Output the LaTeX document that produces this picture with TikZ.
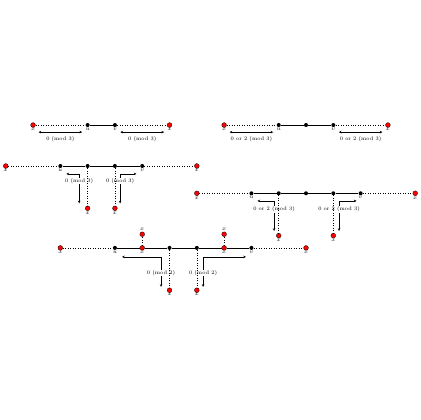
\documentclass[tikz,border=0pt]{standalone}
\usetikzlibrary{arrows.meta}

\tikzset{
  site/.style={circle, fill=black, inner sep=0pt, minimum size=4.2pt},
  redsite/.style={circle, fill=red, draw=black, line width=0.3pt, inner sep=0pt, minimum size=5pt},
  every label/.style={font=\fontsize{6}{6}\selectfont, inner sep=0.6pt},
  modlab/.style={font=\fontsize{5.5}{6}\selectfont, fill=white, inner sep=0.6pt},
  span/.style={{Stealth[length=2.8pt,width=2.6pt]}-{Stealth[length=2.8pt,width=2.6pt]}, semithick},
  bond/.style={semithick},
  gap/.style={dotted, semithick},
}

\begin{document}
\begin{tikzpicture}
    \useasboundingbox (-0.21,0.08) rectangle (15.175,-15.305);
    \newcommand{\drop}{1.55} % vertical span down to the lower sites
    \newcommand{\lift}{0.5}

    % top left path
    \node[redsite, label=below:$x$] (a0) at (1,-4.5) {};
    \node[site, label=below:$u$] (a2) at (3,-4.5) {};
    \node[site, label=below:$v$] (a3) at (4,-4.5) {};
    \node[redsite, label=below:$x$] (a5) at (6,-4.5) {};
    \draw[gap] (a0) -- (a2);
    \draw[bond] (a2) -- (a3);
    \draw[gap] (a3) -- (a5);
    \coordinate (al1) at (1.2,-4.76); \coordinate (al2) at (2.8,-4.76);
    \coordinate (ar1) at (4.2,-4.76); \coordinate (ar2) at (5.8,-4.76);
    \draw[span] (al1) -- (al2);
    \draw[span] (ar1) -- (ar2);
    \node[modlab] (ma1) at (2,-5.0) {0 (mod 3)};
    \node[modlab] (ma2) at (5,-5.0) {0 (mod 3)};

    % top right path
    \node[redsite, label=below:$x$] (b0) at (8,-4.5) {};
    \node[site, label=below:$u$] (b2) at (10,-4.5) {};
    \node[site] (b3) at (11,-4.5) {};
    \node[site, label=below:$v$] (b4) at (12,-4.5) {};
    \node[redsite, label=below:$x$] (b6) at (14,-4.5) {};
    \draw[gap] (b0) -- (b2);
    \draw[bond] (b2) -- (b3) -- (b4);
    \draw[gap] (b4) -- (b6);
    \coordinate (bl1) at (8.2,-4.76); \coordinate (bl2) at (9.8,-4.76);
    \coordinate (br1) at (12.2,-4.76); \coordinate (br2) at (13.8,-4.76);
    \draw[span] (bl1) -- (bl2);
    \draw[span] (br1) -- (br2);
    \node[modlab] (mb1) at (9,-5.0) {0 or 2 (mod 3)};
    \node[modlab] (mb2) at (13,-5.0) {0 or 2 (mod 3)};

    % middle left path
    \node[redsite, label=below:$x$] (c0) at (0,-6) {};
    \node[site, label=below:$u$] (c2) at (2,-6) {};
    \foreach \x in {3,4}
      \node[site] (c\x) at (\x,-6) {};
    \node[site, label=below:$v$] (c5) at (5,-6) {};
    \node[redsite, label=below:$x$] (c7) at (7,-6) {};
    \draw[gap] (c0) -- (c2);
    \draw[bond] (c2) -- (c3) -- (c4) -- (c5);
    \draw[gap] (c5) -- (c7);
    \coordinate (cl1) at (2.22,-6.29); \coordinate (cl2) at (2.69,-7.37);
    \coordinate (cr1) at (4.79,-6.29); \coordinate (cr2) at (4.19,-7.37);
    \draw[span] (cl1) -| (cl2);
    \draw[span] (cr1) -| (cr2);
    \node[modlab] (mc1) at (2.69,-6.56) {0 (mod 3)};
    \node[modlab] (mc2) at (4.19,-6.56) {0 (mod 3)};
    \foreach \x in {3,4} {
      \node[redsite, label=below:$x$] (cd\x) at (\x,-6-\drop) {};
      \draw[gap] (c\x) -- (cd\x);
    }

    % middle right path
    \node[redsite, label=below:$x$] (d0) at (7,-7) {};
    \node[site, label=below:$u$] (d2) at (9,-7) {};
    \foreach \x in {3,4,5}
      \node[site] (d\x) at (\x+7,-7) {};
    \node[site, label=below:$v$] (d6) at (13,-7) {};
    \node[redsite, label=below:$x$] (d8) at (15,-7) {};
    \draw[gap] (d0) -- (d2);
    \draw[bond] (d2) -- (d3) -- (d4) -- (d5) -- (d6);
    \draw[gap] (d6) -- (d8);
    \coordinate (dl1) at (9.22,-7.28); \coordinate (dl2) at (9.83,-8.38);
    \coordinate (dr1) at (12.85,-7.28); \coordinate (dr2) at (12.21,-8.38);
    \draw[span] (dl1) -| (dl2);
    \draw[span] (dr1) -| (dr2);
    \node[modlab] (md1) at (9.83,-7.6) {0 or 2 (mod 3)};
    \node[modlab] (md2) at (12.21,-7.6) {0 or 2 (mod 3)};
    \foreach \x in {3,5} {
      \node[redsite, label=below:$x$] (dd\x) at (\x+7,-7-\drop) {};
      \draw[gap] (d\x) -- (dd\x);
    }

    % bottom path
    \node[redsite, label=below:$x$] (e0) at (2,-9) {};
    \node[site, label=below:$u$] (e2) at (4,-9) {};
    \node[redsite, label=below:$x$] (e3) at (5,-9) {};
    \foreach \x in {4,5}
      \node[site] (e\x) at (\x+2,-9) {};
    \node[redsite, label=below:$x$] (e6) at (8,-9) {};
    \node[site, label=below:$v$] (e7) at (9,-9) {};
    \node[redsite, label=below:$x$] (e9) at (11,-9) {};
    \draw[gap] (e0) -- (e2);
    \draw[bond] (e2) -- (e3) -- (e4) -- (e5) -- (e6) -- (e7);
    \draw[gap] (e7) -- (e9);
    \foreach \x in {3,6} {
      \node[redsite, label=above:$x$] (eu\x) at (\x+2,-9+\lift) {};
      \draw[gap] (e\x) -- (eu\x);
    }
    \coordinate (el1) at (4.26,-9.33); \coordinate (el2) at (5.69,-10.43);
    \coordinate (er1) at (8.80,-9.33); \coordinate (er2) at (7.23,-10.43);
    \draw[span] (el1) -| (el2);
    \draw[span] (er1) -| (er2);
    \node[modlab] (me1) at (5.69,-9.91) {0 (mod 2)};
    \node[modlab] (me2) at (7.23,-9.91) {0 (mod 2)};
    \foreach \x in {4,5} {
      \node[redsite, label=below:$x$] (ed\x) at (\x+2,-9-\drop) {};
      \draw[gap] (e\x) -- (ed\x);
    }
\end{tikzpicture}
\end{document}
